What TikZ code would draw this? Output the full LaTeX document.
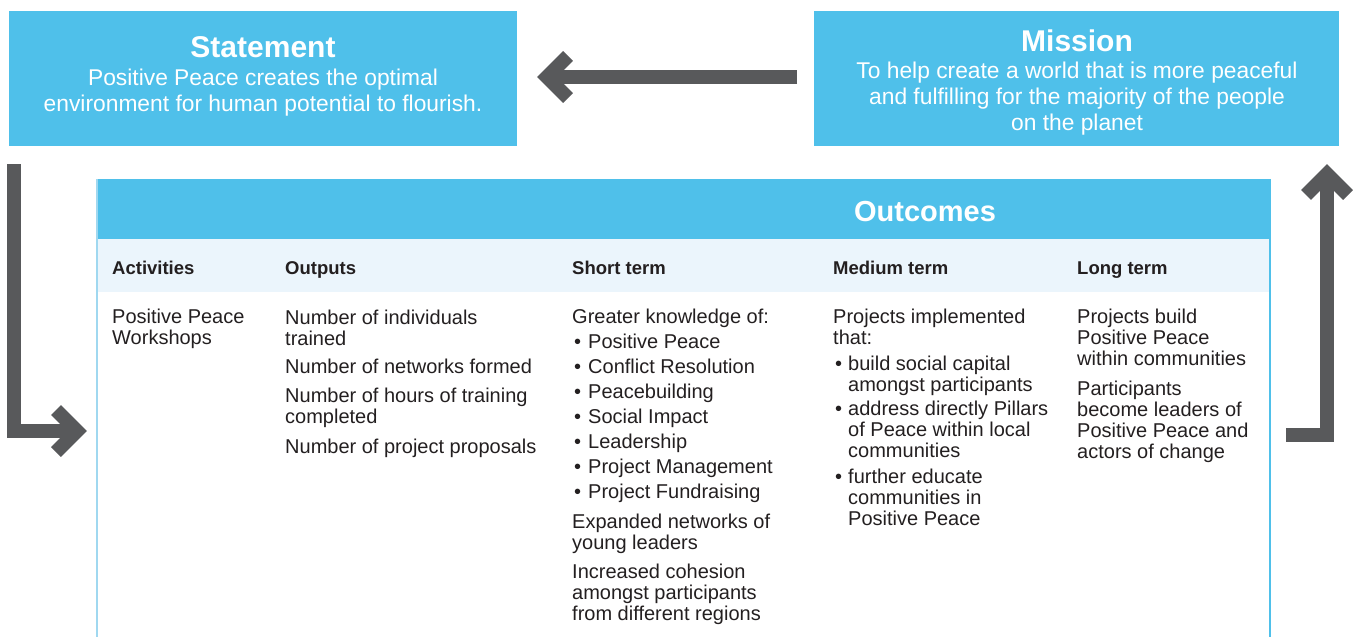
\documentclass[tikz,border=0pt]{standalone}
\usepackage{fontspec}
\setmainfont{Liberation Sans}
\definecolor{ppblue}{RGB}{79,192,234}
\definecolor{ppedge}{RGB}{160,216,240}
\definecolor{ppgray}{RGB}{88,89,91}
\definecolor{pplight}{RGB}{235,245,252}
\definecolor{pptext}{RGB}{35,31,32}
\begin{document}
\begin{tikzpicture}[x=1pt,y=-1pt,
  bluebox/.style={fill=ppblue, draw=none, inner sep=0, anchor=north west},
  boxtitle/.style={font=\bfseries\fontsize{30}{32}\selectfont, text=white, anchor=base, inner sep=0},
  lead/.style={font=\fontsize{22.8}{26}\selectfont, text=white, align=center, anchor=base, inner sep=0},
  hdr/.style={font=\bfseries\fontsize{18.5}{21}\selectfont, text=pptext, anchor=base west, inner sep=0},
  body/.style={font=\fontsize{20}{21}\selectfont, text=pptext, anchor=base west, inner sep=0, align=left},
  bigarrow/.style={draw=ppgray, line width=14pt, line join=miter},
  chev/.style={draw=ppgray, line width=14pt, line join=miter}]
\useasboundingbox (0,0) rectangle (1355,637);

% top boxes (multi-line nodes are anchored at the baseline of their last line)
\node[bluebox, minimum width=508pt, minimum height=135pt] (statement) at (9,11) {};
\node[boxtitle] (sttitle) at (263,57) {Statement};
\node[lead] (sttext) at (263,111) {Positive Peace creates the optimal\\environment for human potential to flourish.};

\node[bluebox, minimum width=525pt, minimum height=135pt] (mission) at (814,11) {};
\node[boxtitle] (mititle) at (1077,51) {Mission};
\node[lead] (mitext) at (1077,130) {To help create a world that is more peaceful\\and fulfilling for the majority of the people\\on the planet};

% table
\node[bluebox, minimum width=1173pt, minimum height=60pt] (outhead) at (97,179) {};
\node[fill=pplight, inner sep=0, anchor=north west, minimum width=1173pt, minimum height=53pt] (subhead) at (97,239) {};
\draw[ppedge, line width=2pt] (97,179) -- (97,637);
\draw[ppblue, line width=1.5pt] (1270,179) -- (1270,637);
\node[font=\bfseries\fontsize{29}{31}\selectfont, text=white, anchor=base, inner sep=0] (outcomes) at (925,221) {Outcomes};

\node[hdr] (hact) at (112,274) {Activities};
\node[hdr] (hout) at (285,274) {Outputs};
\node[hdr] (hshort) at (572,274) {Short term};
\node[hdr] (hmed) at (833,274) {Medium term};
\node[hdr] (hlong) at (1077,274) {Long term};

% activities
\node[body] (act1) at (112,344) {Positive Peace\\Workshops};
% outputs
\node[body] (out1) at (285,345) {Number of individuals\\trained};
\node[body] (out2) at (285,373) {Number of networks formed};
\node[body] (out3) at (285,423) {Number of hours of training\\completed};
\node[body] (out4) at (285,453) {Number of project proposals};
% short term
\node[body] (sh0) at (572,323) {Greater knowledge of:};
\foreach \t [count=\i] in {Positive Peace, Conflict Resolution, Peacebuilding, Social Impact, Leadership, Project Management, Project Fundraising}{
  \node[body] (shb\i) at (574,{323+25*\i}) {•};
  \node[body] (sh\i) at (588,{323+25*\i}) {\t};
}
\node[body] (sh8) at (572,549) {Expanded networks of\\young leaders};
\node[body] (sh9) at (572,620) {Increased cohesion\\amongst participants\\from different regions};
% medium term
\node[body] (me0) at (833,344) {Projects implemented\\that:};
\node[body] (meb1) at (835,370) {•};
\node[body] (me1) at (848,391) {build social capital\\amongst participants};
\node[body] (meb2) at (835,415) {•};
\node[body] (me2) at (848,457) {address directly Pillars\\of Peace within local\\communities};
\node[body] (meb3) at (835,483) {•};
\node[body] (me3) at (848,525) {further educate\\communities in\\Positive Peace};
% long term
\node[body] (lo1) at (1077,365) {Projects build\\Positive Peace\\within communities};
\node[body] (lo2) at (1077,458) {Participants\\become leaders of\\Positive Peace and\\actors of change};

% arrows
\coordinate (a1s) at (797,77);
\coordinate (a1e) at (547,77);
\draw[bigarrow] (a1s) -- (a1e);
\draw[chev] (a1e) ++(21,-21) -- (a1e) -- ++(21,21);

\coordinate (a2s) at (14,164);
\coordinate (a2c) at (14,431);
\coordinate (a2e) at (77,431);
\draw[bigarrow] (a2s) -- (a2c) -- (a2e);
\draw[chev] (a2e) ++(-21,-21) -- (a2e) -- ++(-21,21);

\coordinate (a3s) at (1286,435);
\coordinate (a3c) at (1327,435);
\coordinate (a3e) at (1327,174);
\draw[bigarrow] (a3s) -- (a3c) -- (a3e);
\draw[chev] (a3e) ++(-21,21) -- (a3e) -- ++(21,21);
\end{tikzpicture}
\end{document}
